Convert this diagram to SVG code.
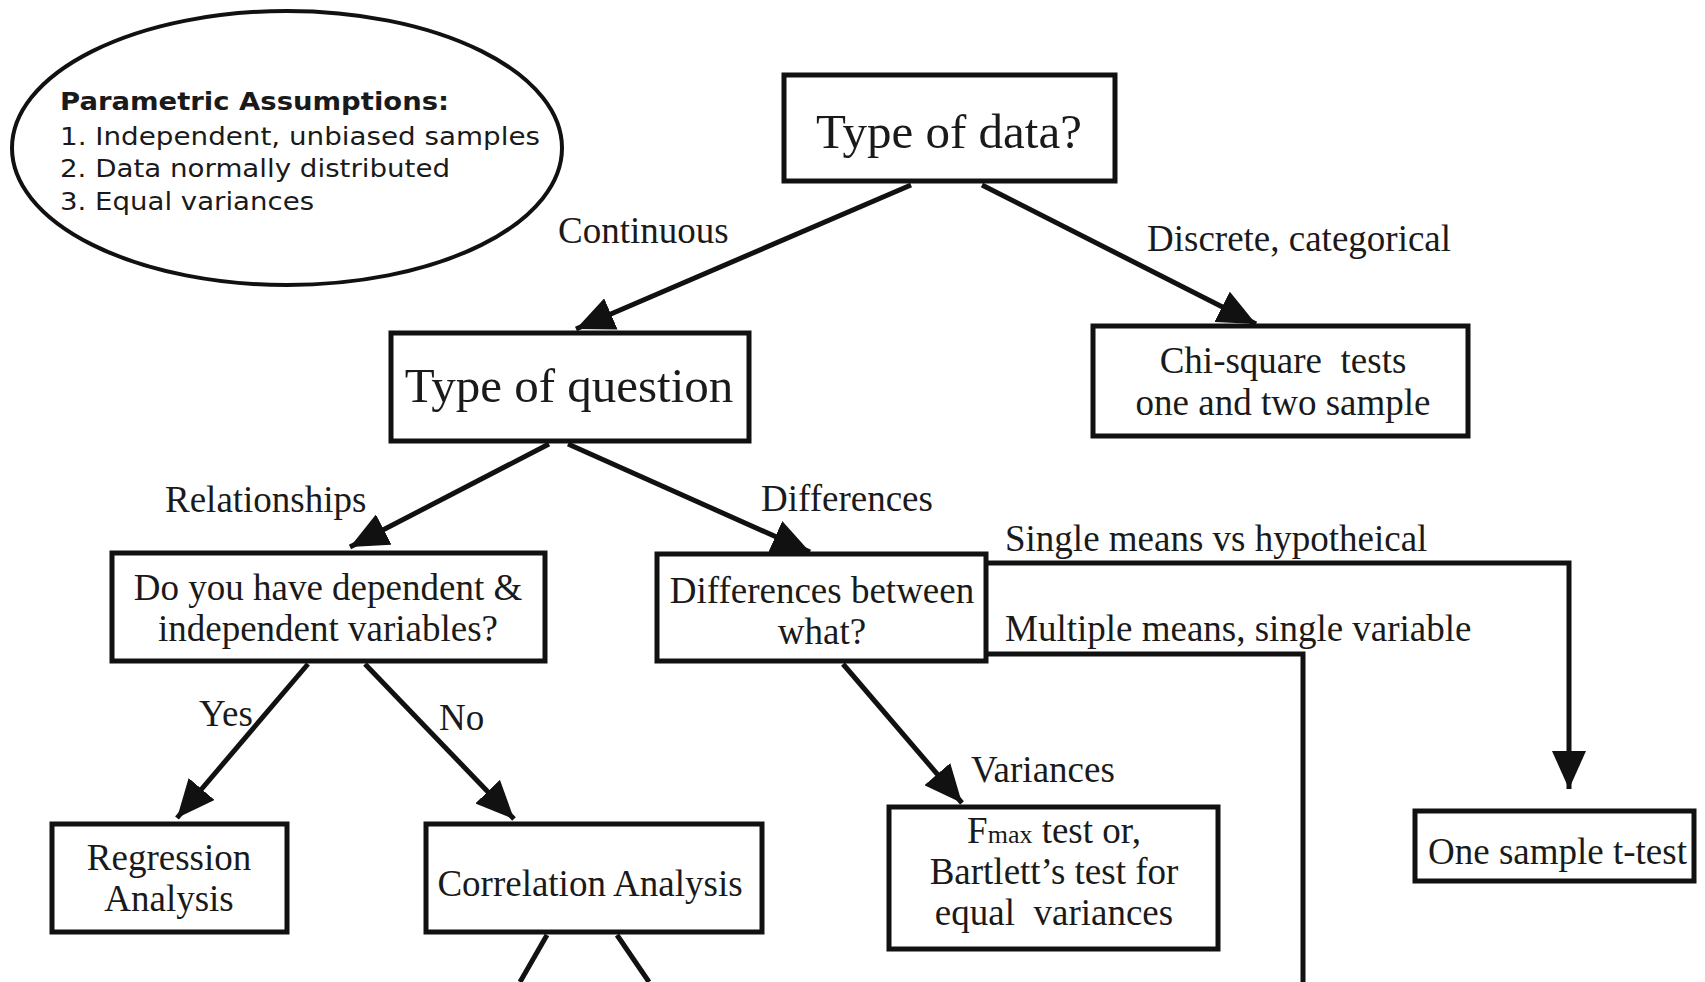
<svg xmlns="http://www.w3.org/2000/svg" width="1705" height="982" viewBox="0 0 1705 982">
<style>
.box{fill:#fff;stroke:#111;stroke-width:5}
.t{font-family:"Liberation Serif","Times New Roman",serif;font-size:37px;fill:#1a1a1a}
.big{font-size:49px}
.m{text-anchor:middle}
.s{font-family:"DejaVu Sans",Verdana,sans-serif;font-size:24px;fill:#1a1a1a}
.c{fill:none;stroke:#111;stroke-width:5}
</style>
<defs>
<marker id="ah" viewBox="0 0 38 34" refX="38" refY="17" markerWidth="38" markerHeight="34" markerUnits="userSpaceOnUse" orient="auto">
<path d="M0,0 L38,17 L0,34 z" fill="#111"/>
</marker>
</defs>
<rect width="1705" height="982" fill="#fff"/>

<g id="assumptions">
<ellipse cx="287" cy="148" rx="275" ry="137" fill="#fff" stroke="#111" stroke-width="4"/>
<text class="s" x="60" y="110" font-weight="bold" textLength="389" lengthAdjust="spacingAndGlyphs">Parametric Assumptions:</text>
<text class="s" x="60" y="145" textLength="480" lengthAdjust="spacingAndGlyphs">1. Independent, unbiased samples</text>
<text class="s" x="60" y="177" textLength="390" lengthAdjust="spacingAndGlyphs">2. Data normally distributed</text>
<text class="s" x="60" y="210" textLength="254" lengthAdjust="spacingAndGlyphs">3. Equal variances</text>
</g>

<g id="connectors">
<line class="c" x1="911" y1="185" x2="576" y2="329" marker-end="url(#ah)"/>
<line class="c" x1="982" y1="185" x2="1256" y2="324" marker-end="url(#ah)"/>
<line class="c" x1="549" y1="444" x2="350" y2="547" marker-end="url(#ah)"/>
<line class="c" x1="568" y1="444" x2="810" y2="552" marker-end="url(#ah)"/>
<line class="c" x1="308" y1="664" x2="177" y2="818" marker-end="url(#ah)"/>
<line class="c" x1="365" y1="664" x2="514" y2="819" marker-end="url(#ah)"/>
<line class="c" x1="843" y1="664" x2="962" y2="803" marker-end="url(#ah)"/>
<polyline class="c" points="988,563 1569,563 1569,789" marker-end="url(#ah)"/>
<polyline class="c" points="988,654 1303,654 1303,982"/>
<line class="c" x1="547" y1="935" x2="520" y2="982"/>
<line class="c" x1="617" y1="935" x2="649" y2="982"/>
<text class="t" x="558" y="243">Continuous</text>
<text class="t" x="1147" y="251">Discrete, categorical</text>
<text class="t" x="165" y="512">Relationships</text>
<text class="t" x="761" y="511">Differences</text>
<text class="t" x="1005" y="551">Single means vs hypotheical</text>
<text class="t" x="1005" y="641">Multiple means, single variable</text>
<text class="t" x="199" y="726">Yes</text>
<text class="t" x="439" y="730">No</text>
<text class="t" x="971" y="782">Variances</text>
</g>

<g id="type-of-data">
<rect class="box" x="784" y="75" width="331" height="106"/>
<text class="t big m" x="949" y="148">Type of data?</text>
</g>

<g id="chi-square">
<rect class="box" x="1093" y="326" width="375" height="110"/>
<text class="t m" x="1283" y="373" xml:space="preserve">Chi-square  tests</text>
<text class="t m" x="1283" y="415">one and two sample</text>
</g>

<g id="type-of-question">
<rect class="box" x="391" y="333" width="358" height="108"/>
<text class="t big m" x="569" y="402">Type of question</text>
</g>

<g id="dependent-independent">
<rect class="box" x="112" y="553" width="433" height="108"/>
<text class="t m" x="328" y="600">Do you have dependent &amp;</text>
<text class="t m" x="328" y="641">independent variables?</text>
</g>

<g id="differences-between">
<rect class="box" x="657" y="554" width="329" height="107"/>
<text class="t m" x="822" y="603">Differences between</text>
<text class="t m" x="822" y="644">what?</text>
</g>

<g id="regression">
<rect class="box" x="52" y="824" width="235" height="108"/>
<text class="t m" x="169" y="870">Regression</text>
<text class="t m" x="169" y="911">Analysis</text>
</g>

<g id="correlation">
<rect class="box" x="426" y="824" width="336" height="108"/>
<text class="t m" x="590" y="896">Correlation Analysis</text>
</g>

<g id="fmax">
<rect class="box" x="889" y="807" width="329" height="142"/>
<text class="t m" x="1054" y="843">F<tspan font-size="26">max</tspan> test or,</text>
<text class="t m" x="1054" y="884">Bartlett’s test for</text>
<text class="t m" x="1054" y="925" xml:space="preserve">equal  variances</text>
</g>

<g id="one-sample">
<rect class="box" x="1415" y="811" width="279" height="70"/>
<text class="t" x="1428" y="864">One sample t-test</text>
</g>
</svg>
